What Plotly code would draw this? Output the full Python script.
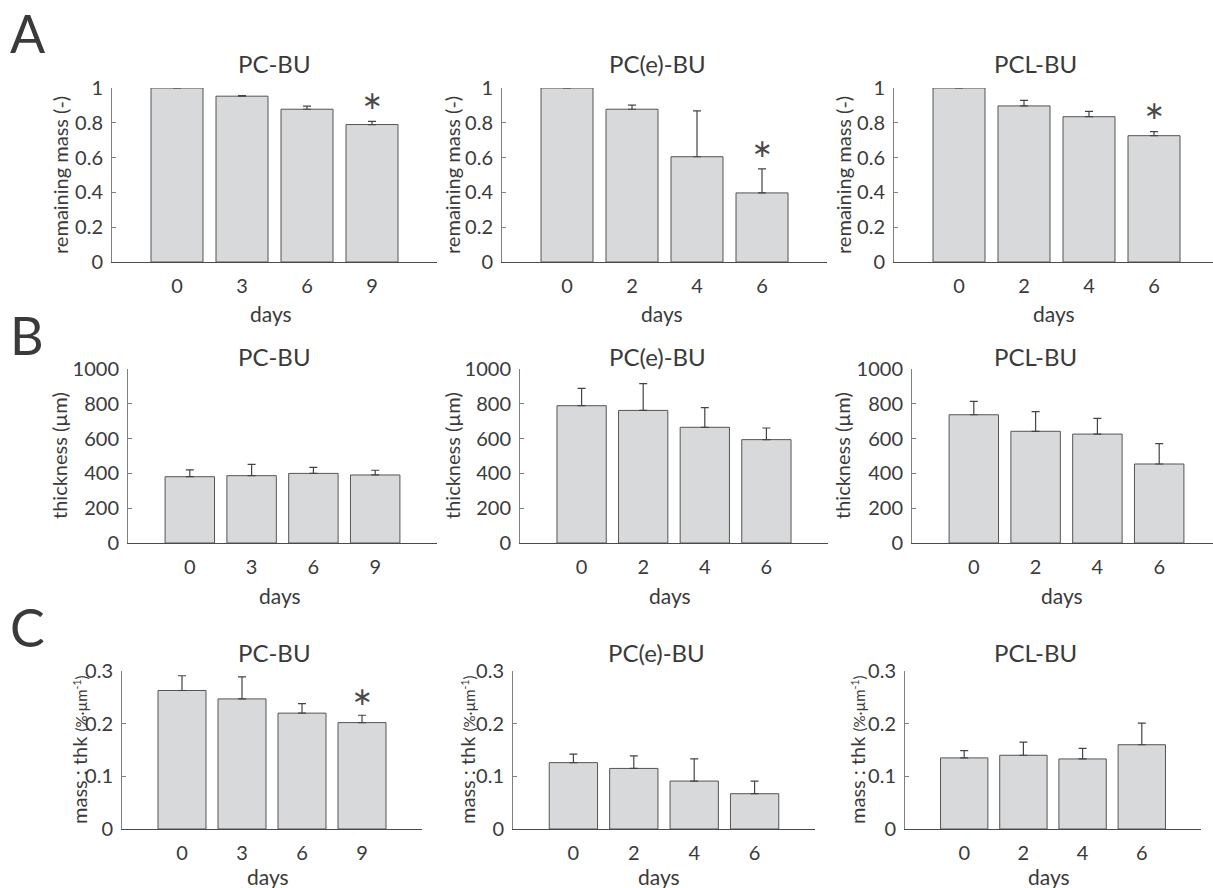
import plotly.graph_objects as go

W, H = 1213, 888
FONT = "Lato"
TXT = "#3a3a3a"

# ---------------- data ----------------
materials = ["PC-BU", "PC(e)-BU", "PCL-BU"]
days_pcbu = ["0", "3", "6", "9"]
days_pce = ["0", "2", "4", "6"]
days_pcl = ["0", "2", "4", "6"]

mass_pcbu = [1.000, 0.953, 0.878, 0.790]
mass_pcbu_err = [0.002, 0.003, 0.018, 0.018]
mass_pce = [1.000, 0.878, 0.605, 0.397]
mass_pce_err = [0.002, 0.024, 0.263, 0.138]
mass_pcl = [1.000, 0.897, 0.835, 0.726]
mass_pcl_err = [0.002, 0.032, 0.031, 0.023]

thk_pcbu = [381, 387, 400, 391]
thk_pcbu_err = [39, 65, 35, 27]
thk_pce = [789, 762, 665, 594]
thk_pce_err = [100, 154, 113, 67]
thk_pcl = [737, 642, 626, 454]
thk_pcl_err = [77, 113, 90, 117]

ratio_pcbu = [0.263, 0.247, 0.220, 0.202]
ratio_pcbu_err = [0.028, 0.042, 0.018, 0.014]
ratio_pce = [0.126, 0.115, 0.091, 0.067]
ratio_pce_err = [0.016, 0.024, 0.042, 0.024]
ratio_pcl = [0.135, 0.140, 0.133, 0.160]
ratio_pcl_err = [0.014, 0.025, 0.020, 0.041]

# significance markers (index of bar marked with *), per panel
sig_mass = [[3], [3], [3]]
sig_thk = [[], [], []]
sig_ratio = [[3], [], []]

mass_ticks = [0, 0.2, 0.4, 0.6, 0.8, 1]
mass_ticktext = ["0", "0.2", "0.4", "0.6", "0.8", "1"]
thk_ticks = [0, 200, 400, 600, 800, 1000]
thk_ticktext = ["0", "200", "400", "600", "800", "1000"]
ratio_ticks = [0, 0.1, 0.2, 0.3]
ratio_ticktext = ["0", "0.1", "0.2", "0.3"]

# ---------------- layout (pixels) ----------------
rows = [
    dict(letter="A", vals=[mass_pcbu, mass_pce, mass_pcl],
         errs=[mass_pcbu_err, mass_pce_err, mass_pcl_err], sig=sig_mass,
         ymax=1.0, ticks=mass_ticks, ticktext=mass_ticktext,
         ylabel="remaining mass (-)",
         xpix=[(112, 437), (502, 827), (894, 1219)], ypix=(88, 262),
         title_x=[274, 657, 1035], title_y=63,
         days_x=[271, 662, 1054], days_y=313,
         ylab_x=[60, 452, 843], letter_y=33),
    dict(letter="B", vals=[thk_pcbu, thk_pce, thk_pcl],
         errs=[thk_pcbu_err, thk_pce_err, thk_pcl_err], sig=sig_thk,
         ymax=1000, ticks=thk_ticks, ticktext=thk_ticktext,
         ylabel="thickness (µm)",
         xpix=[(128, 437), (520, 828), (912, 1221)], ypix=(369, 543),
         title_x=[274, 657, 1035], title_y=357,
         days_x=[280, 670, 1062], days_y=595,
         ylab_x=[59, 452, 842], letter_y=335),
    dict(letter="C", vals=[ratio_pcbu, ratio_pce, ratio_pcl],
         errs=[ratio_pcbu_err, ratio_pce_err, ratio_pcl_err], sig=sig_ratio,
         ymax=0.3, ticks=ratio_ticks, ticktext=ratio_ticktext,
         ylabel="mass : thk <span style='font-size:15px'>(%·µm<sup>-1</sup>)</span>",
         xpix=[(122, 422), (513, 815), (905, 1201)], ypix=(671, 829),
         title_x=[274, 656, 1035], title_y=652,
         days_x=[268, 659, 1049], days_y=876,
         ylab_x=[79, 467, 857], letter_y=627),
]
day_labels = [days_pcbu, days_pce, days_pcl]

fig = go.Figure()
annotations = []

def px(x):
    return x / W

def py(y):
    return 1 - y / H

k = 0
for r, row in enumerate(rows):
    for c in range(3):
        k += 1
        xa = "x" if k == 1 else f"x{k}"
        ya = "y" if k == 1 else f"y{k}"
        xl = "xaxis" if k == 1 else f"xaxis{k}"
        yl = "yaxis" if k == 1 else f"yaxis{k}"
        vals = row["vals"][c]
        errs = row["errs"][c]
        idx = list(range(len(vals)))
        fig.add_trace(go.Bar(
            x=idx, y=vals, xaxis=xa, yaxis=ya, width=0.8,
            marker=dict(color="#d8d9db", line=dict(color="#555555", width=1)),
            error_y=dict(type="data", array=errs, arrayminus=[0] * len(errs),
                         symmetric=False, color="#444444", thickness=1.2, width=4),
            showlegend=False, hoverinfo="skip",
        ))
        x0, x1 = row["xpix"][c]
        span = (x1 - x0) / 5.0
        xr_right = 4.0
        if x1 > W:
            xr_right = -1 + (W - x0) / span
            x1 = W
        fig.layout[xl] = dict(
            domain=[px(x0), px(x1)], range=[-1, xr_right], anchor=ya,
            showline=True, linecolor="#4a4a4a", linewidth=1.2,
            ticks="", tickvals=idx, ticktext=day_labels[c],
            tickfont=dict(family=FONT, size=20, color=TXT),
            showgrid=False, zeroline=False, fixedrange=True,
            ticklabelstandoff=6, automargin=False,
        )
        ytop, ybot = row["ypix"]
        fig.layout[yl] = dict(
            domain=[py(ybot), py(ytop)], range=[0, row["ymax"]], anchor=xa,
            showline=True, linecolor="#808080", linewidth=1,
            ticks="inside", ticklen=4, tickcolor="#808080", tickwidth=1,
            tickvals=row["ticks"], ticktext=row["ticktext"],
            tickfont=dict(family=FONT, size=20, color=TXT),
            showgrid=False, zeroline=False, fixedrange=True,
            ticklabelstandoff=4, automargin=False,
        )
        # title
        annotations.append(dict(
            text=materials[c], x=px(row["title_x"][c]), y=py(row["title_y"]),
            xref="paper", yref="paper", xanchor="center", yanchor="middle",
            showarrow=False, font=dict(family=FONT, size=24, color=TXT)))
        # x label
        annotations.append(dict(
            text="days", x=px(row["days_x"][c]), y=py(row["days_y"]),
            xref="paper", yref="paper", xanchor="center", yanchor="middle",
            showarrow=False, font=dict(family=FONT, size=21, color=TXT)))
        # y label
        annotations.append(dict(
            text=row["ylabel"], x=px(row["ylab_x"][c]),
            y=py((ytop + ybot) / 2),
            xref="paper", yref="paper", xanchor="center", yanchor="middle",
            textangle=-90, showarrow=False,
            font=dict(family=FONT, size=20, color=TXT)))
        # significance stars
        for i in row["sig"][c]:
            annotations.append(dict(
                text="∗", x=i, y=vals[i] + errs[i] + 0.12 * row["ymax"],
                xref=xa, yref=ya, xanchor="center", yanchor="middle",
                showarrow=False,
                font=dict(family="DejaVu Sans", size=25, color="#4a4a4a")))
    # panel letter
    annotations.append(dict(
        text=row["letter"], x=px(8), y=py(row["letter_y"]),
        xref="paper", yref="paper", xanchor="left", yanchor="middle",
        showarrow=False, font=dict(family=FONT, size=52, color=TXT)))

fig.update_layout(
    width=W, height=H, margin=dict(l=0, r=0, t=0, b=0, pad=0, autoexpand=False),
    paper_bgcolor="white", plot_bgcolor="white", template="none",
    annotations=annotations, bargap=0.2,
    font=dict(family=FONT, color=TXT),
)

fig.write_html(
    "out.html",
    config={"displayModeBar": False},
    post_script="document.body.style.margin='0';document.body.style.overflow='hidden';",
)
